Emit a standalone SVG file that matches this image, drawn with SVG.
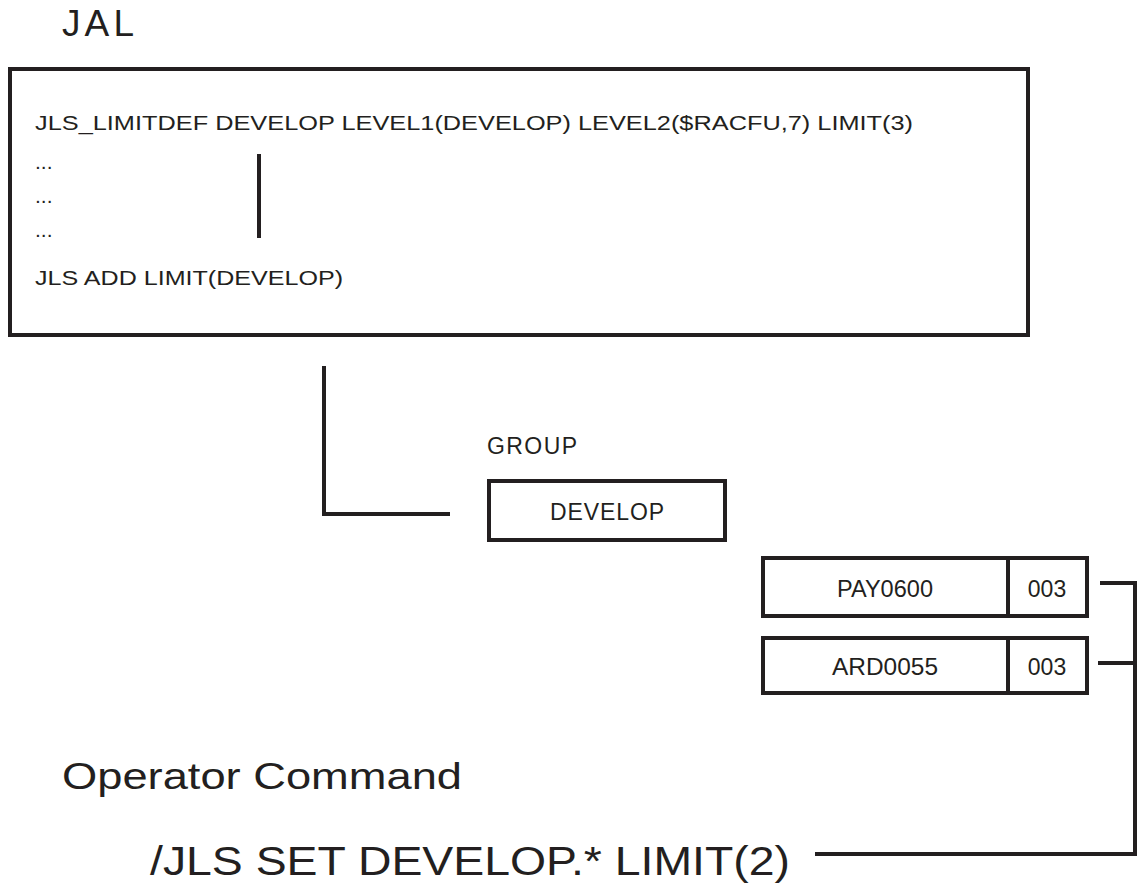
<svg xmlns="http://www.w3.org/2000/svg" width="1147" height="888" viewBox="0 0 1147 888">
<style>
text{font-family:"Liberation Sans",Arial,sans-serif;fill:#231f20}
.box{fill:#fff;stroke:#231f20;stroke-width:4}
.ln{fill:none;stroke:#231f20;stroke-width:4}
.t{font-size:21px}
.m{font-size:23px}
</style>
<rect width="1147" height="888" fill="#fff"/>
<text x="62" y="36" font-size="37" textLength="72" lengthAdjust="spacing">JAL</text>
<g id="jal">
<rect class="box" x="10" y="69" width="1018" height="266"/>
<text class="t" x="35" y="130" textLength="878" lengthAdjust="spacingAndGlyphs">JLS_LIMITDEF  DEVELOP LEVEL1(DEVELOP)  LEVEL2($RACFU,7) LIMIT(3)</text>
<text class="t" x="35" y="169">...</text>
<text class="t" x="35" y="203">...</text>
<text class="t" x="35" y="237">...</text>
<line class="ln" x1="259" y1="154" x2="259" y2="238"/>
<text class="t" x="35" y="285" textLength="308" lengthAdjust="spacingAndGlyphs">JLS ADD LIMIT(DEVELOP)</text>
</g>
<g id="group">
<text class="m" x="487" y="454" textLength="90" lengthAdjust="spacing">GROUP</text>
<rect class="box" x="489" y="481" width="236" height="59"/>
<text class="m" x="607" y="520" text-anchor="middle" textLength="114" lengthAdjust="spacing">DEVELOP</text>
</g>
<g id="pay0600">
<rect class="box" x="763" y="558" width="324" height="58"/>
<line class="ln" x1="1008" y1="558" x2="1008" y2="616"/>
<text class="m" x="885" y="597" text-anchor="middle" textLength="96" lengthAdjust="spacingAndGlyphs">PAY0600</text>
<text class="m" x="1047" y="597" text-anchor="middle">003</text>
</g>
<g id="ard0055">
<rect class="box" x="763" y="638" width="324" height="55"/>
<line class="ln" x1="1008" y1="638" x2="1008" y2="693"/>
<text class="m" x="885" y="675" text-anchor="middle" textLength="106" lengthAdjust="spacingAndGlyphs">ARD0055</text>
<text class="m" x="1047" y="675" text-anchor="middle">003</text>
</g>
<g id="operator">
<text x="62" y="789" font-size="37" textLength="400" lengthAdjust="spacingAndGlyphs">Operator Command</text>
<text x="150" y="875" font-size="40" textLength="640" lengthAdjust="spacingAndGlyphs">/JLS SET  DEVELOP.* LIMIT(2)</text>
</g>
<g id="connectors">
<polyline class="ln" points="324,366 324,514 450,514"/>
<line class="ln" x1="1100" y1="583" x2="1135" y2="583"/>
<line class="ln" x1="1098" y1="663" x2="1135" y2="663"/>
<polyline class="ln" points="1135,581 1135,854 815,854"/>
</g>
</svg>
